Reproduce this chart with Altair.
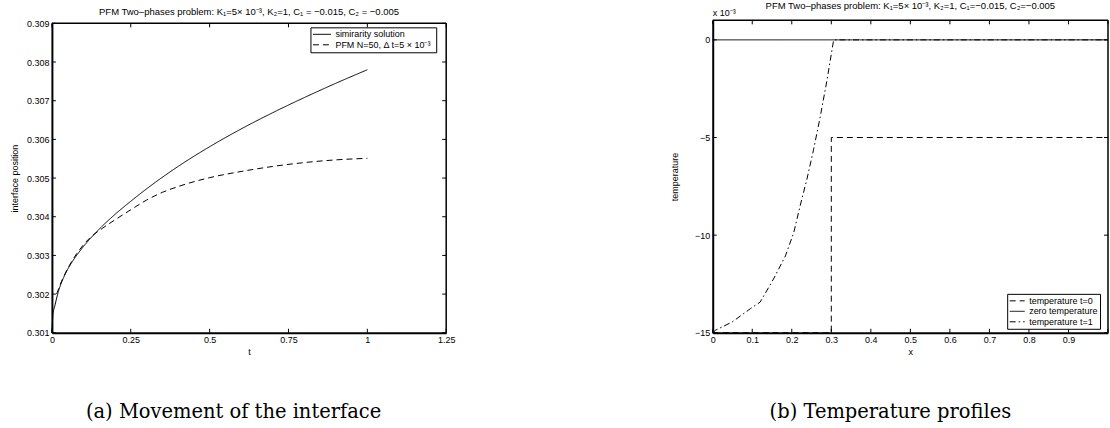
import altair as alt
import pandas as pd

FONT = "Liberation Sans"

# ---------------- Panel (a): interface position ----------------
sim_t = [0.0, 0.003, 0.01, 0.02, 0.04, 0.06, 0.08, 0.1, 0.15, 0.2, 0.25, 0.3, 0.4,
         0.5, 0.6, 0.7, 0.8, 0.9, 1.0]
sim_s = [0.3010, 0.30145, 0.30172, 0.30205, 0.30248, 0.30278, 0.30302, 0.30323,
         0.30368, 0.30406, 0.30440, 0.30472, 0.30530, 0.30581, 0.30627, 0.30669,
         0.30708, 0.30745, 0.30780]
pfm_t = [0.015, 0.03, 0.05, 0.08, 0.12, 0.16, 0.2, 0.25, 0.3, 0.35, 0.4, 0.5, 0.6,
         0.7, 0.8, 0.9, 1.0]
pfm_s = [0.30200, 0.30232, 0.30266, 0.30306, 0.30345, 0.30370, 0.30392, 0.30418,
         0.30443, 0.30463, 0.30478, 0.30501, 0.30517, 0.30530, 0.30540, 0.30547,
         0.30551]
leg_a = ["simirarity solution", "PFM  N=50, \u0394 t=5 \u00d7 10\u207b\u00b3"]
x1_ticks = [0, 0.25, 0.5, 0.75, 1.0, 1.25]
y1_ticks = [0.301, 0.302, 0.303, 0.304, 0.305, 0.306, 0.307, 0.308, 0.309]
title_a = ("PFM Two\u2013phases problem:  K\u2081=5\u00d7 10\u207b\u00b3, K\u2082=1, "
           "C\u2081 = \u22120.015, C\u2082 = \u22120.005")
caption_a = "(a) Movement of the interface"

# ---------------- Panel (b): temperature profiles ----------------
t0_x = [0.0, 0.3, 0.3, 1.0]
t0_y = [-0.015, -0.015, -0.005, -0.005]
zero_x = [0.0, 1.0]
zero_y = [0.0, 0.0]
t1_x = [0.0, 0.007, 0.049, 0.095, 0.120, 0.154, 0.184, 0.205, 0.221, 0.238, 0.255,
        0.272, 0.289, 0.306, 1.0]
t1_y = [-0.0150, -0.01487, -0.01445, -0.01377, -0.01343, -0.01224, -0.01106,
        -0.00987, -0.00851, -0.00716, -0.00563, -0.00394, -0.00207, 0.0, 0.0]
leg_b = ["temperature t=0", "zero temperature", "temperature t=1"]
x2_ticks = [0.0, 0.1, 0.2, 0.3, 0.4, 0.5, 0.6, 0.7, 0.8, 0.9, 1.0]
x2_labels = [0.0, 0.1, 0.2, 0.3, 0.4, 0.5, 0.6, 0.7, 0.8, 0.9]
y2_ticks = [-0.015, -0.010, -0.005, 0.0]
title_b = ("PFM Two\u2013phases problem: K\u2081=5\u00d7 10\u207b\u00b3, K\u2082=1, "
           "C\u2081=\u22120.015, C\u2082=\u22120.005")
caption_b = "(b) Temperature profiles"

W1, H1 = 395, 313
W2, H2 = 396, 313
TICK = 4
one = alt.Data(values=[{}])


def legend(x, y, size):
    return alt.Legend(
        title=None, orient="none", legendX=x, legendY=y,
        symbolType="stroke", symbolStrokeColor="black", symbolStrokeWidth=1,
        symbolSize=size, clipHeight=10, rowPadding=0.5,
        labelFont=FONT, labelFontSize=9, labelColor="black", labelOffset=4,
        padding=2, strokeColor="black", fillColor="white",
    )


def text(s, x, y, size=9, font=FONT, align="center", baseline="middle"):
    return alt.Chart(one).mark_text(
        text=s, font=font, fontSize=size, align=align, baseline=baseline, color="black"
    ).encode(x=alt.value(x), y=alt.value(y))


# ----- left -----
df_sim = pd.DataFrame({"t": sim_t, "s": sim_s, "series": leg_a[0]})
df_pfm = pd.DataFrame({"t": pfm_t, "s": pfm_s, "series": leg_a[1]})
df_a = pd.concat([df_sim, df_pfm])
xs1 = alt.Scale(domain=[0, 1.25], nice=False, zero=False)
ys1 = alt.Scale(domain=[0.301, 0.309], range=[H1, 3], nice=False, zero=False)
xa1 = alt.Axis(values=x1_ticks, labelExpr="format(datum.value, '.2~f')", title="t",
               titleY=19, titleBaseline="middle")
ya1 = alt.Axis(values=y1_ticks, format=".3f", title="interface position",
               titleX=-37, titleBaseline="middle")

lines_a = alt.Chart(df_a).mark_line(strokeWidth=1, color="black",
                                    interpolate="monotone").encode(
    x=alt.X("t:Q", scale=xs1, axis=xa1),
    y=alt.Y("s:Q", scale=ys1, axis=ya1),
    strokeDash=alt.StrokeDash("series:N",
                              scale=alt.Scale(domain=leg_a, range=[[1, 0], [6, 4]]),
                              legend=legend(259, 7, 324)),
)

xt1 = pd.DataFrame({"t": x1_ticks})
yt1 = pd.DataFrame({"s": y1_ticks})
ticks_a = [
    alt.Chart(xt1).mark_rule(color="black", strokeWidth=1).encode(
        x=alt.X("t:Q", scale=xs1, axis=xa1), y=alt.value(H1), y2=alt.value(H1 - TICK)),
    alt.Chart(xt1).mark_rule(color="black", strokeWidth=1).encode(
        x=alt.X("t:Q", scale=xs1, axis=xa1), y=alt.value(3), y2=alt.value(3 + TICK)),
    alt.Chart(yt1).mark_rule(color="black", strokeWidth=1).encode(
        y=alt.Y("s:Q", scale=ys1, axis=ya1), x=alt.value(0), x2=alt.value(TICK)),
    alt.Chart(yt1).mark_rule(color="black", strokeWidth=1).encode(
        y=alt.Y("s:Q", scale=ys1, axis=ya1), x=alt.value(W1), x2=alt.value(W1 - TICK)),
]
fr_a = pd.DataFrame({"t": [x1_ticks[0]], "t2": [x1_ticks[-1]],
                     "s": [y1_ticks[0]], "s2": [y1_ticks[-1]]})
frame_a = [
    alt.Chart(fr_a).mark_rule(color="black", strokeWidth=1.5).encode(
        x=alt.X("t:Q", scale=xs1, axis=xa1), x2="t2:Q",
        y=alt.Y("s2:Q", scale=ys1, axis=ya1)),
    alt.Chart(fr_a).mark_rule(color="black", strokeWidth=1.5).encode(
        x=alt.X("t2:Q", scale=xs1, axis=xa1),
        y=alt.Y("s:Q", scale=ys1, axis=ya1), y2="s2:Q"),
]
anchor = alt.Chart(one).mark_rule(opacity=0, strokeWidth=0.1).encode(
    x=alt.value(-52), x2=alt.value(-51), y=alt.value(-20))

left = alt.layer(
    anchor, *frame_a, *ticks_a, lines_a,
    text(title_a, W1 / 2, -8, size=9.5),
    text(caption_a, 182, 392, size=19.5, font="DejaVu Serif"),
).properties(width=W1, height=H1)

# ----- right -----
df_b = pd.concat([
    pd.DataFrame({"x": t0_x, "T": t0_y, "series": leg_b[0], "i": range(len(t0_x))}),
    pd.DataFrame({"x": zero_x, "T": zero_y, "series": leg_b[1], "i": range(len(zero_x))}),
    pd.DataFrame({"x": t1_x, "T": t1_y, "series": leg_b[2], "i": range(len(t1_x))}),
])
xs2 = alt.Scale(domain=[0, 1], nice=False, zero=False)
ys2 = alt.Scale(domain=[-0.015, 0.001], nice=False, zero=False)
xa2 = alt.Axis(values=x2_labels, labelExpr="format(datum.value, '.1~f')", title="x",
               titleY=19, titleBaseline="middle")
ya2 = alt.Axis(values=y2_ticks, labelExpr="format(datum.value*1000, 'd')",
               title="temperature", titleX=-38, titleBaseline="middle")

lines_b = alt.Chart(df_b).mark_line(strokeWidth=1, color="black").encode(
    x=alt.X("x:Q", scale=xs2, axis=xa2),
    y=alt.Y("T:Q", scale=ys2, axis=ya2),
    strokeDash=alt.StrokeDash("series:N",
                              scale=alt.Scale(domain=leg_b,
                                              range=[[6, 4], [1, 0], [6, 3, 1.5, 3]]),
                              legend=legend(295, 274, 225)),
    order="i:Q",
)
xt2 = pd.DataFrame({"x": x2_ticks})
yt2 = pd.DataFrame({"T": y2_ticks})
ticks_b = [
    alt.Chart(xt2).mark_rule(color="black", strokeWidth=1).encode(
        x=alt.X("x:Q", scale=xs2, axis=xa2), y=alt.value(H2), y2=alt.value(H2 - TICK)),
    alt.Chart(xt2).mark_rule(color="black", strokeWidth=1).encode(
        x=alt.X("x:Q", scale=xs2, axis=xa2), y=alt.value(0), y2=alt.value(TICK)),
    alt.Chart(yt2).mark_rule(color="black", strokeWidth=1).encode(
        y=alt.Y("T:Q", scale=ys2, axis=ya2), x=alt.value(0), x2=alt.value(TICK)),
    alt.Chart(yt2).mark_rule(color="black", strokeWidth=1).encode(
        y=alt.Y("T:Q", scale=ys2, axis=ya2), x=alt.value(W2), x2=alt.value(W2 - TICK)),
]
fr_b = pd.DataFrame({"x": [0.0], "x2": [1.0], "T": [-0.015], "T2": [0.001]})
frame_b = [
    alt.Chart(fr_b).mark_rule(color="black", strokeWidth=1.5).encode(
        x=alt.X("x:Q", scale=xs2, axis=xa2), x2="x2:Q",
        y=alt.Y("T2:Q", scale=ys2, axis=ya2)),
    alt.Chart(fr_b).mark_rule(color="black", strokeWidth=1.5).encode(
        x=alt.X("x2:Q", scale=xs2, axis=xa2),
        y=alt.Y("T:Q", scale=ys2, axis=ya2), y2="T2:Q"),
]
right = alt.layer(
    *frame_b, *ticks_b, lines_b,
    text(title_b, W2 / 2, -14.5, size=9.5),
    text("x 10\u207b\u00b3", 0, -7, size=9, align="left"),
    text(caption_b, 178, 392, size=19.5, font="DejaVu Serif"),
).properties(width=W2, height=H2)

chart = alt.hconcat(left, right, spacing=267, bounds="flush").resolve_scale(
    x="independent", y="independent", strokeDash="independent"
).resolve_legend(strokeDash="independent").properties(
    padding=0, background="white"
).configure_view(stroke=None).configure_axis(
    domainColor="black", domainWidth=2, ticks=False, grid=False, zindex=1,
    labelFont=FONT, labelFontSize=9, labelColor="black", labelPadding=3,
    labelFlush=False, labelOverlap=False,
    titleFont=FONT, titleFontSize=9, titleFontWeight="normal", titleColor="black",
)

chart.save("out.html", embed_options={"renderer": "svg", "actions": False})
